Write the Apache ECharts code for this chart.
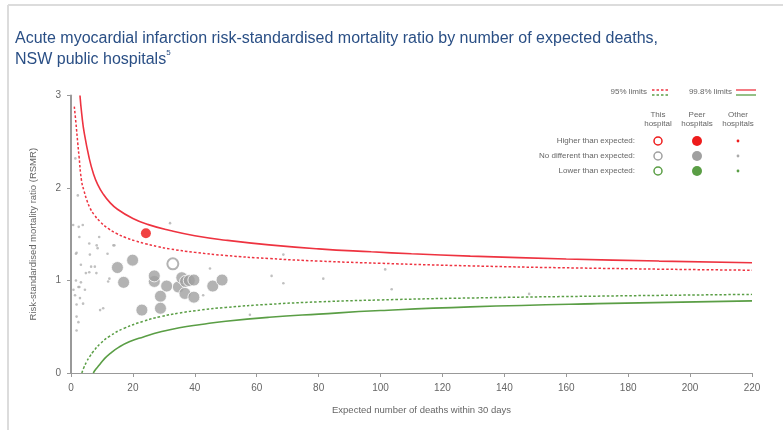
<!DOCTYPE html>
<html><head><meta charset="utf-8">
<script src="https://cdn.jsdelivr.net/npm/echarts@6/dist/echarts.min.js"></script>
<style>html,body{margin:0;padding:0;background:#fff}#c{width:783px;height:430px}</style>
</head><body><div id="c"></div>
<script>
// Control limits: [expected deaths, RSMR]
const upper998 = [[2.9,3.0],[3.5,2.79],[4.3,2.59],[5.9,2.32],[7.2,2.16],[8.6,2.04],[10.5,1.93],[12.4,1.85],[15,1.77],[20,1.67],[25,1.604],[32,1.54],[40,1.484],[50,1.436],[64,1.385],[80,1.342],[97,1.31],[110,1.289],[129,1.264],[160,1.233],[190,1.21],[220,1.192]];
const upper95 = [[1.07,2.88],[1.6,2.7],[2.2,2.48],[2.6,2.34],[3.4,2.08],[4.2,1.97],[5.1,1.87],[6.2,1.78],[7.5,1.71],[9.5,1.633],[12,1.563],[14.5,1.512],[17.8,1.462],[21,1.426],[24,1.398],[28,1.367],[32,1.341],[40,1.304],[50,1.27],[64,1.2375],[80,1.21],[100,1.186],[129,1.158],[170,1.132],[220,1.111]];
const lower95 = [[3.5,0],[4.2,0.063],[5,0.119],[6,0.175],[7.2,0.232],[9.5,0.319],[12.6,0.40],[17,0.481],[23.4,0.56],[29,0.61],[35,0.648],[42,0.681],[50,0.709],[64,0.7425],[80,0.769],[100,0.79],[129,0.811],[170,0.831],[220,0.85]];
const lower998 = [[7.2,0],[8,0.04],[9,0.08],[10.7,0.15],[12.6,0.21],[15.5,0.28],[19,0.34],[23.4,0.39],[29,0.445],[35,0.49],[42,0.525],[50,0.56],[64,0.6025],[80,0.637],[100,0.675],[129,0.715],[170,0.75],[220,0.78]];

// Hospitals: [expected deaths, RSMR]
const thisHospital = [[32.9,1.18]];
const peerHigher = [[24.2,1.51]];
const peerNoDiff = [[15.0,1.14],[19.9,1.22],[17.0,0.98],[26.9,0.99],[26.9,1.05],[30.9,0.94],[28.9,0.83],[22.9,0.68],[28.9,0.70],[34.7,0.93],[35.8,1.03],[37.0,0.99],[38.2,1.0],[39.7,1.005],[36.8,0.86],[39.7,0.82],[45.8,0.94],[48.8,1.005]];
const otherHospitals = [[1.4,2.32],[2.2,1.92],[0.7,1.6],[3.8,1.6],[2.5,1.58],[2.7,1.47],[5.9,1.40],[9.1,1.47],[8.6,1.35],[1.6,1.29],[11.8,1.29],[14,1.38],[3.2,1.17],[6.5,1.15],[4.8,1.08],[5.9,1.09],[8.2,1.08],[12.4,1.02],[1.6,1.0],[3.2,0.98],[2.7,0.93],[1.8,1.30],[6.1,1.28],[8.3,1.38],[13.7,1.38],[7.7,1.15],[12,0.99],[0.8,0.90],[2.4,0.93],[4.5,0.90],[1.3,0.84],[2.9,0.81],[1.8,0.74],[3.9,0.75],[9.4,0.68],[10.4,0.70],[1.8,0.61],[2.4,0.55],[1.8,0.46],[32,1.62],[68.6,1.28],[44.9,1.13],[64.8,1.05],[68.6,0.97],[81.5,1.02],[101.5,1.12],[103.6,0.905],[42.7,0.84],[57.8,0.63],[148,0.855]];

const RED = '#ee3340', GREEN = '#5a9e45', GREY = '#a0a0a0', TXT = '#666';
const FONT = 'Liberation Sans, Arial, sans-serif';
const LFONT = '8px ' + FONT;

const chart = echarts.init(document.getElementById('c'));

function limitSeries(data, color, dashed) {
  return {
    type: 'line', data, smooth: true, symbol: 'none', silent: true, z: 2,
    lineStyle: { color, width: dashed ? 1.5 : 1.6, type: dashed ? [2.5, 2] : 'solid' }
  };
}

// Legend drawn as graphics in the top-right corner
const lg = [];
const t = (x, y, text, align) => ({ type: 'text', x, y, style: { text, fill: TXT, font: LFONT, align: align || 'left', verticalAlign: 'middle' } });
const ln = (x1, y, x2, color, dash) => ({ type: 'line', shape: { x1, y1: y, x2, y2: y }, style: { stroke: color, lineWidth: 1.3, lineDash: dash || null } });
const dot = (cx, cy, r, fill, stroke) => ({ type: 'circle', shape: { cx, cy, r }, style: { fill: fill, stroke: stroke || null, lineWidth: 1.5 } });
lg.push(t(647, 92, '95% limits', 'right'));
lg.push(ln(652, 90, 670, RED, [2.5, 2]), ln(652, 95, 670, GREEN, [2.5, 2]));
lg.push(t(732, 92, '99.8% limits', 'right'));
lg.push(ln(736, 90, 756, RED), ln(736, 95, 756, GREEN));
lg.push({ type: 'text', x: 658, y: 119, style: { text: 'This\nhospital', fill: TXT, font: LFONT, align: 'center', verticalAlign: 'middle', lineHeight: 9 } });
lg.push({ type: 'text', x: 697, y: 119, style: { text: 'Peer\nhospitals', fill: TXT, font: LFONT, align: 'center', verticalAlign: 'middle', lineHeight: 9 } });
lg.push({ type: 'text', x: 738, y: 119, style: { text: 'Other\nhospitals', fill: TXT, font: LFONT, align: 'center', verticalAlign: 'middle', lineHeight: 9 } });
const rows = [['Higher than expected:', 141, '#ee1c1c', '#ee1c1c'], ['No different than expected:', 156, GREY, '#aaa'], ['Lower than expected:', 171, GREEN, GREEN]];
rows.forEach(([label, y, c, oc]) => {
  lg.push(t(635, y, label, 'right'));
  lg.push(dot(658, y, 4, '#fff', c));
  lg.push(dot(697, y, 5, c));
  lg.push(dot(738, y, 1.4, oc));
});

// Page frame
lg.push({ type: 'line', shape: { x1: 8, y1: 5, x2: 783, y2: 5 }, style: { stroke: '#dcdcdc', lineWidth: 2 } });
lg.push({ type: 'line', shape: { x1: 8, y1: 5, x2: 8, y2: 430 }, style: { stroke: '#dcdcdc', lineWidth: 2 } });

chart.setOption({
  animation: false,
  backgroundColor: '#fff',
  title: {
    left: 10, top: 23,
    text: 'Acute myocardial infarction risk-standardised mortality ratio by number of expected deaths,\nNSW public hospitals{sup|5}',
    textStyle: {
      color: '#2a4f85', fontSize: 16, fontWeight: 'normal', fontFamily: FONT, lineHeight: 21,
      rich: { sup: { fontSize: 8, color: '#2a4f85', fontFamily: FONT, verticalAlign: 'top', padding: [0, 0, 8, 0] } }
    }
  },
  grid: { left: 71, right: 31, top: 95.5, bottom: 57, containLabel: false },
  xAxis: {
    type: 'value', min: 0, max: 220, interval: 20,
    name: 'Expected number of deaths within 30 days', nameLocation: 'middle', nameGap: 32,
    nameTextStyle: { color: TXT, fontSize: 9.5, fontFamily: FONT, padding: [0, 0, 0, 20] },
    axisLine: { lineStyle: { color: '#999', width: 1.2 } },
    axisTick: { show: true, length: 4, lineStyle: { color: '#999' } },
    axisLabel: { color: TXT, fontSize: 10, fontFamily: FONT, margin: 10 },
    splitLine: { show: false }
  },
  yAxis: {
    type: 'value', min: 0, max: 3, interval: 1,
    name: 'Risk-standardised mortality ratio (RSMR)', nameLocation: 'middle', nameGap: 33,
    nameTextStyle: { color: TXT, fontSize: 9.5, fontFamily: FONT },
    axisLine: { show: true, lineStyle: { color: '#999', width: 2 } },
    axisTick: { show: true, length: 4, lineStyle: { color: '#999' } },
    axisLabel: { color: TXT, fontSize: 10, fontFamily: FONT, margin: 10 },
    splitLine: { show: false }
  },
  series: [
    limitSeries(upper998, RED, false),
    limitSeries(upper95, RED, true),
    limitSeries(lower95, GREEN, true),
    limitSeries(lower998, GREEN, false),
    { type: 'scatter', data: otherHospitals, symbolSize: 2.6, itemStyle: { color: '#b0b0b0' }, z: 3 },
    { type: 'scatter', data: peerNoDiff, symbolSize: 12, itemStyle: { color: GREY, borderColor: '#fff', borderWidth: 1 }, z: 4 },
    { type: 'scatter', data: peerHigher, symbolSize: 10, itemStyle: { color: '#ee1111' }, z: 4 },
    { type: 'scatter', data: thisHospital, symbolSize: 11, itemStyle: { color: '#fff', borderColor: GREY, borderWidth: 2 }, z: 5 }
  ],
  graphic: lg
});
</script>
</body></html>
